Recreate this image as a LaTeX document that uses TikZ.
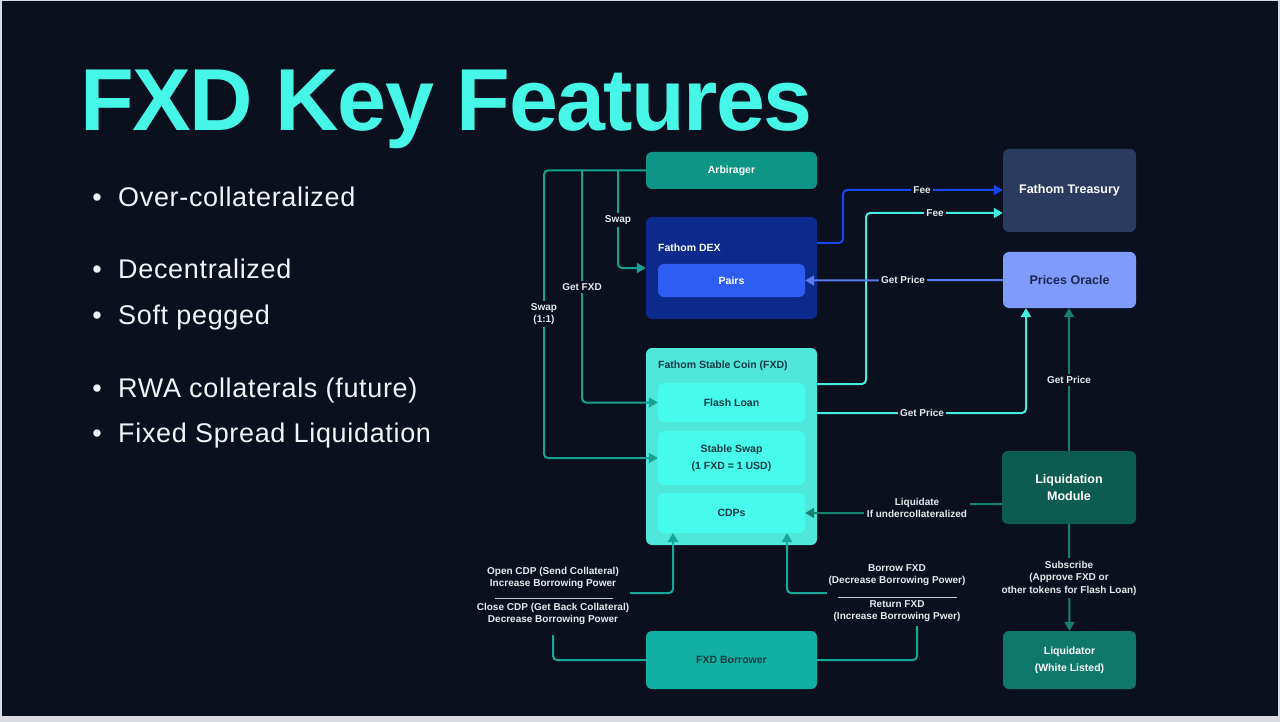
\documentclass[tikz,border=0pt]{standalone}
\usepackage{fontspec}
\setmainfont{Liberation Sans}
\usetikzlibrary{arrows.meta}
\definecolor{bg}{HTML}{0A101D}
\definecolor{framec}{HTML}{D9DBE0}
\definecolor{titlec}{HTML}{46F6E6}
\definecolor{bultxt}{HTML}{F2F4F7}
\definecolor{labtxt}{HTML}{E6E9EE}
\definecolor{arbc}{HTML}{0F9585}
\definecolor{dexc}{HTML}{0B2A8C}
\definecolor{pairc}{HTML}{2F5DF3}
\definecolor{fxdc}{HTML}{4FE7DA}
\definecolor{fxdin}{HTML}{46FBEC}
\definecolor{borc}{HTML}{12B0A2}
\definecolor{treac}{HTML}{2B3B60}
\definecolor{orac}{HTML}{7F9CFD}
\definecolor{liqc}{HTML}{0D5C52}
\definecolor{liqrc}{HTML}{0F776C}
\definecolor{darktxt}{HTML}{113A42}
\definecolor{oratxt}{HTML}{1C2550}
\definecolor{arbl}{HTML}{16A190}
\definecolor{bluefee}{HTML}{1747F2}
\definecolor{cyanl}{HTML}{45EDE0}
\definecolor{pricel}{HTML}{5A7BEE}
\definecolor{borl}{HTML}{16A99A}
\definecolor{liql}{HTML}{138070}
\definecolor{sepc}{HTML}{C8CCD2}
\begin{document}
\begin{tikzpicture}[x=1pt,y=-1pt,
  box/.style={rounded corners=6pt, inner sep=0pt, align=center,
    font=\fontsize{10.5}{17}\selectfont\bfseries},
  bigbox/.style={box, font=\fontsize{12.5}{17}\selectfont\bfseries},
  conn/.style={line width=2pt, rounded corners=4pt},
  arr/.style={conn, -{Triangle[length=9pt,width=10pt]}},
  lab/.style={fill=bg, text=labtxt, inner sep=2.5pt, align=center,
    font=\fontsize{10}{12.5}\selectfont\bfseries},
  bul/.style={text=bultxt, inner sep=0pt, anchor=base west,
    font=\fontsize{27}{30}\selectfont\addfontfeature{LetterSpace=2.5}},
  dot/.style={text=bultxt, inner sep=0pt, anchor=base,
    font=\fontsize{27}{30}\selectfont}
]
\useasboundingbox (0,0) rectangle (1280,722);
\fill[framec] (0,0) rectangle (1280,722);
\fill[bg] (2,1.5) rectangle (1277.5,716);

% title
\node[anchor=base west, inner sep=0pt, text=titlec,
  font=\fontsize{88}{88}\selectfont\bfseries\addfontfeature{LetterSpace=-1.8}]
  (title) at (80,131) {FXD Key Features};

% bullets
\node[dot] (d1) at (97,207) {•};
\node[bul] (b1) at (118,207) {Over-collateralized};
\node[dot] (d2) at (97,279) {•};
\node[bul] (b2) at (118,279) {Decentralized};
\node[dot] (d3) at (97,324) {•};
\node[bul] (b3) at (118,324) {Soft pegged};
\node[dot] (d4) at (97,397) {•};
\node[bul] (b4) at (118,397) {RWA collaterals (future)};
\node[dot] (d5) at (97,442) {•};
\node[bul] (b5) at (118,442) {Fixed Spread Liquidation};

% boxes
\node[box, fill=arbc, text=white, minimum width=171pt, minimum height=37pt] (arb) at (731.5,170.5) {Arbirager};
\node[box, fill=dexc, minimum width=171pt, minimum height=102pt] (dex) at (731.5,268) {};
\node[box, anchor=west, text=white] (dexlbl) at (658,248) {Fathom DEX};
\node[box, fill=pairc, text=white, minimum width=147pt, minimum height=33pt] (pairs) at (731.5,280.5) {Pairs};

\node[box, fill=fxdc, minimum width=171pt, minimum height=197pt] (fxd) at (731.5,446.5) {};
\node[box, anchor=west, text=darktxt] (fxdlbl) at (658,366) {Fathom Stable Coin (FXD)};
\node[box, fill=fxdin, text=darktxt, minimum width=147pt, minimum height=39pt] (flash) at (731.5,402.5) {Flash Loan};
\node[box, fill=fxdin, text=darktxt, minimum width=147pt, minimum height=54pt] (sswap) at (731.5,458) {Stable Swap\\(1 FXD = 1 USD)};
\node[box, fill=fxdin, text=darktxt, minimum width=147pt, minimum height=40pt] (cdps) at (731.5,513) {CDPs};

\node[box, fill=borc, text=darktxt, minimum width=171pt, minimum height=58pt] (bor) at (731.5,660) {FXD Borrower};

\node[bigbox, fill=treac, text=white, minimum width=133pt, minimum height=83pt] (trea) at (1069.5,190.5) {Fathom Treasury};
\node[bigbox, fill=orac, text=oratxt, minimum width=133pt, minimum height=56pt] (ora) at (1069.5,280) {Prices Oracle};
\node[bigbox, fill=liqc, text=white, minimum width=134pt, minimum height=73pt] (liq) at (1069,487.5) {Liquidation\\Module};
\node[box, fill=liqrc, text=white, minimum width=133pt, minimum height=58pt] (lqr) at (1069.5,660) {Liquidator\\(White Listed)};

% coordinates
\coordinate (jA) at (618,170.5);
\coordinate (jB) at (582,170.5);
\coordinate (dexout) at (817,243);
\coordinate (fxdfee) at (817,384);
\coordinate (fxdgp) at (817,413);
\coordinate (feeA) at (843,190);
\coordinate (feeB) at (866,213);
\coordinate (liqout) at (1002,504);

% arbirager connectors
\draw[arr, arbl] (arb.west) -- (544,170.5) -- (544,458) -- (sswap.west);
\draw[arr, arbl] (jB) -- (582,402.5) -- (flash.west);
\draw[arr, arbl] (jA) -- (618,268) -- (dex.west);

% fees
\draw[arr, bluefee] (dexout) -- (feeA |- dexout) -- (feeA) -- (trea.west |- feeA);
\draw[arr, cyanl] (fxdfee) -- (feeB |- fxdfee) -- (feeB) -- (trea.west |- feeB);

% prices
\draw[arr, pricel] (ora.west) -- (pairs.east);
\draw[arr, cyanl] (fxdgp) -- (1026,413) -- (1026,308);
\draw[arr, liql] (liq.north) -- (liq.north |- ora.south);

% liquidate
\draw[arr, liql] (liqout) -- (935,504) -- (935,513) -- (cdps.east);
\draw[arr, liql] (liq.south) -- (lqr.north);

% borrower
\draw[arr, borl] (bor.west) -- (553,660) -- (553,593) -- (673,593) -- (673,533);
\draw[arr, borl] (bor.east) -- (917,660) -- (917,593) -- (787,593) -- (787,533);

% labels
\node[lab] (l1) at (544,314) {Swap\\(1:1)};
\node[lab] (l2) at (582,287) {Get FXD};
\node[lab] (l3) at (618,220) {Swap};
\node[lab] (l4) at (922,190) {Fee};
\node[lab] (l5) at (935,213) {Fee};
\node[lab] (l6) at (903,280) {Get Price};
\node[lab] (l7) at (922,413) {Get Price};
\node[lab] (l8) at (1069,380) {Get Price};
\node[lab] (l9) at (917,508) {Liquidate\\If undercollateralized};
\node[lab] (l10) at (1069,578) {Subscribe\\(Approve FXD or\\other tokens for Flash Loan)};
\node[lab, inner xsep=1pt, inner ysep=6pt, minimum height=78pt] (l11) at (553,596) {Open CDP (Send Collateral)\\Increase Borrowing Power\\[11pt]Close CDP (Get Back Collateral)\\Decrease Borrowing Power};
\node[lab, inner xsep=2pt, inner ysep=4pt] (l12) at (897,593) {Borrow FXD\\(Decrease Borrowing Power)\\[11pt]Return FXD\\(Increase Borrowing Pwer)};
\draw[sepc, line width=1pt] (495,598) -- (613,598);
\draw[sepc, line width=1pt] (838,597) -- (957,597);
\end{tikzpicture}
\end{document}
